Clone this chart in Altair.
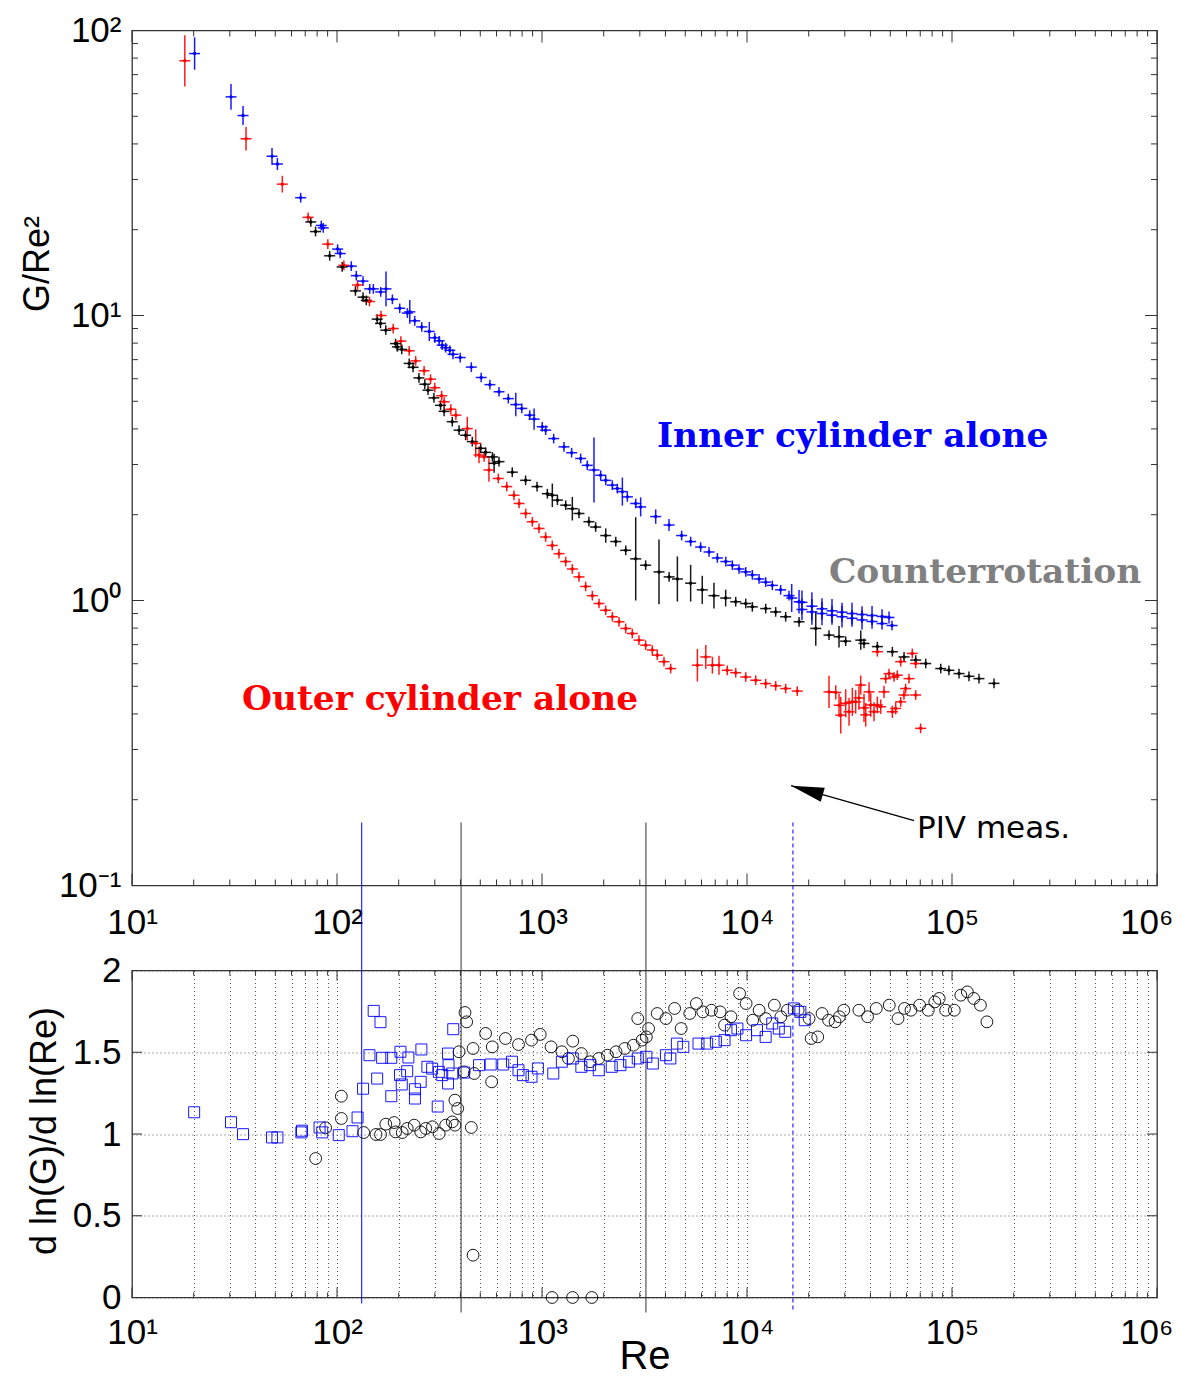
import altair as alt
import pandas as pd

# ------------------------------------------------------------------
# Top panel: G/Re^2 versus Re
# ------------------------------------------------------------------
inner_re = [20.2, 30.4, 34.8, 48.2, 51.2, 66.5, 83.8, 85.7, 100.7, 103.7,
            117.4, 124.2, 133.9, 144.4, 150.4, 163.4, 173.4, 186.3, 202.3, 220.4,
            226.5, 239.5, 259, 282, 300, 315, 326, 339, 355, 368,
            399, 452, 505, 557, 617, 685, 745, 797, 871, 915,
            1003, 1042, 1140, 1280, 1395, 1544, 1663, 1793, 1933, 2046,
            2203, 2330, 2466, 2608, 2865, 3029, 3586, 4165, 4800, 5310,
            5940, 6530, 7170, 7880, 8480, 9140, 9860, 10620, 11450, 12340,
            13290, 14590, 16030, 16520, 17940,
            18540, 20730, 23210, 25980, 29070, 32530, 36400, 40730, 45580, 49300,
            18540, 20730, 23210, 25980, 29070, 32530, 36400, 40730, 45580, 50980]
inner_g = [83.0, 58.5, 50.3, 36.2, 34.0, 25.9, 20.7, 20.3, 17.1, 16.5,
           14.9, 13.8, 13.2, 12.4, 12.4, 12.1, 12.4, 11.4, 10.6, 10.2,
           10.3, 9.58, 9.12, 8.79, 8.35, 8.15, 7.87, 7.71, 7.55, 7.31,
           7.12, 6.59, 6.06, 5.72, 5.40, 5.11, 4.87, 4.72, 4.47, 4.33,
           4.07, 3.96, 3.70, 3.46, 3.30, 3.15, 2.98, 2.87, 2.75, 2.64,
           2.54, 2.47, 2.41, 2.31, 2.19, 2.13, 1.97, 1.84, 1.69, 1.61,
           1.54, 1.48, 1.41, 1.37, 1.33, 1.29, 1.26, 1.23, 1.19, 1.16,
           1.13, 1.09, 1.04, 1.02, 0.99,
           0.985, 0.955, 0.935, 0.92, 0.91, 0.90, 0.893, 0.886, 0.879, 0.872,
           0.93, 0.912, 0.90, 0.888, 0.877, 0.866, 0.855, 0.844, 0.830, 0.817]
inner_err = [0.14, 0.11, 0.08, 0.07, 0.05, 0.04, 0.04, 0.04, 0.04, 0.04,
             0.04, 0.04, 0.04, 0.04, 0.04, 0.04, 0.15, 0.04, 0.04, 0.04,
             0.10, 0.04, 0.04, 0.08, 0.04, 0.04, 0.04, 0.04, 0.04, 0.04,
             0.04, 0.04, 0.04, 0.04, 0.04, 0.04, 0.10, 0.04, 0.04, 0.09,
             0.04, 0.04, 0.04, 0.04, 0.04, 0.04, 0.04, 0.30, 0.04, 0.04,
             0.04, 0.04, 0.12, 0.04, 0.04, 0.08, 0.06, 0.05, 0.04, 0.04,
             0.04, 0.04, 0.04, 0.04, 0.04, 0.04, 0.04, 0.04, 0.04, 0.04,
             0.04, 0.04, 0.04, 0.12, 0.10,
             0.10, 0.12, 0.09, 0.10, 0.08, 0.09, 0.07, 0.08, 0.06, 0.05,
             0.09, 0.11, 0.10, 0.08, 0.09, 0.07, 0.08, 0.06, 0.05, 0.04]

outer_re = [18.1, 36.0, 54.1, 72.3, 90.2, 108, 126, 144, 164, 188,
            205, 225, 242, 266, 286, 300, 324, 333, 359, 380,
            432, 475, 493, 522, 551, 612, 673, 730, 773, 833,
            897, 967, 1042, 1122, 1210, 1305, 1406, 1515, 1633, 1760,
            1897, 2045, 2204, 2376, 2561, 2757, 2972, 3204, 3452, 3651,
            3936, 4243, 5728, 6295, 6780, 7300, 8010, 8810, 9860, 11030,
            12340, 13800, 15440, 17580,
            25120, 27100, 28120, 28660, 30290, 31460, 32640, 33890, 35180, 35870,
            37220, 37930, 39390, 40120, 41660, 43240, 43240, 44900, 46600, 47500,
            49300, 51180, 52130, 53120, 54100, 56200, 56200, 58300, 59400, 61700,
            64000, 66500, 66500, 70300]
outer_g = [78.3, 41.7, 28.9, 22.1, 17.8, 15.0, 12.8, 11.2, 10.0, 9.0,
           8.13, 7.52, 6.93, 6.40, 5.98, 5.58, 5.23, 4.98, 4.69, 4.47,
           4.01, 3.56, 3.24, 3.19, 2.87, 2.68, 2.51, 2.34, 2.19, 2.02,
           1.89, 1.79, 1.67, 1.56, 1.46, 1.37, 1.29, 1.21, 1.12, 1.04,
           0.976, 0.924, 0.877, 0.842, 0.798, 0.766, 0.726, 0.697, 0.670, 0.643,
           0.610, 0.577, 0.593, 0.634, 0.593, 0.593, 0.569, 0.558, 0.539, 0.525,
           0.511, 0.502, 0.491, 0.481,
           0.478, 0.476, 0.429, 0.396, 0.436, 0.407, 0.441, 0.441, 0.455, 0.505,
           0.420, 0.397, 0.478, 0.430, 0.407, 0.430, 0.661, 0.424, 0.478, 0.532,
           0.554, 0.407, 0.539, 0.418, 0.547, 0.441, 0.610, 0.466, 0.491, 0.532,
           0.652, 0.601, 0.466, 0.356]
outer_err = [0.23, 0.10, 0.07, 0.04, 0.04, 0.04, 0.04, 0.04, 0.04, 0.04,
             0.04, 0.04, 0.04, 0.04, 0.04, 0.04, 0.04, 0.04, 0.04, 0.04,
             0.10, 0.12, 0.07, 0.04, 0.10, 0.04, 0.04, 0.04, 0.04, 0.04,
             0.04, 0.04, 0.04, 0.04, 0.04, 0.04, 0.04, 0.04, 0.04, 0.04,
             0.04, 0.04, 0.04, 0.04, 0.04, 0.04, 0.04, 0.04, 0.04, 0.04,
             0.04, 0.04, 0.14, 0.10, 0.07, 0.08, 0.04, 0.04, 0.04, 0.04,
             0.04, 0.04, 0.04, 0.04,
             0.14, 0.06, 0.10, 0.16, 0.12, 0.12, 0.12, 0.10, 0.10, 0.08,
             0.12, 0.10, 0.08, 0.10, 0.08, 0.07, 0.04, 0.06, 0.05, 0.04,
             0.04, 0.05, 0.04, 0.05, 0.04, 0.04, 0.04, 0.04, 0.04, 0.04,
             0.04, 0.04, 0.04, 0.04]

counter_re = [74.5, 78.6, 92.1, 106, 123, 134, 139, 157, 163, 173,
              193, 197, 207, 225, 235, 251, 268, 278, 297, 320,
              333, 365, 394, 424, 457, 502, 531, 573, 584, 617,
              716, 832, 946, 1062, 1123, 1189, 1305, 1406, 1515, 1694,
              1827, 2046, 2290, 2561, 2865, 3204, 3722, 4170, 4575, 5310,
              6050, 6900, 7870, 8810, 9860, 10620, 12340, 13800, 15440, 17950,
              21650, 25120, 28110, 30290, 35890, 37220, 43240, 51180, 58350, 66530,
              74440, 88120, 96600, 108200, 121000, 135400, 160300]
counter_g = [21.3, 19.7, 16.2, 14.8, 12.2, 11.6, 11.3, 9.71, 9.38, 8.88,
             7.97, 7.76, 7.60, 6.79, 6.58, 6.04, 5.74, 5.47, 5.14, 4.84,
             4.61, 4.24, 3.96, 3.80, 3.61, 3.42, 3.31, 3.19, 3.03, 3.07,
             2.82, 2.64, 2.51, 2.37, 2.34, 2.25, 2.16, 2.10, 2.02, 1.89,
             1.81, 1.69, 1.61, 1.50, 1.40, 1.33, 1.26, 1.21, 1.19, 1.15,
             1.09, 1.04, 1.02, 0.99, 0.976, 0.950, 0.937, 0.912, 0.877, 0.842,
             0.798, 0.756, 0.746, 0.720, 0.726, 0.707, 0.689, 0.661, 0.634, 0.618,
             0.601, 0.577, 0.569, 0.554, 0.542, 0.532, 0.512]
counter_err = [0.04, 0.04, 0.04, 0.04, 0.04, 0.04, 0.04, 0.04, 0.04, 0.04,
               0.04, 0.04, 0.04, 0.04, 0.04, 0.04, 0.04, 0.04, 0.04, 0.04,
               0.04, 0.04, 0.04, 0.04, 0.04, 0.04, 0.04, 0.04, 0.08, 0.04,
               0.04, 0.04, 0.04, 0.04, 0.10, 0.04, 0.04, 0.10, 0.04, 0.04,
               0.04, 0.06, 0.04, 0.04, 0.40, 0.04, 0.30, 0.04, 0.20, 0.16,
               0.12, 0.11, 0.07, 0.04, 0.04, 0.04, 0.04, 0.04, 0.04, 0.04,
               0.15, 0.04, 0.09, 0.04, 0.08, 0.04, 0.04, 0.04, 0.04, 0.04,
               0.04, 0.04, 0.04, 0.04, 0.04, 0.04, 0.04]

# ------------------------------------------------------------------
# Bottom panel: local slope d ln(G)/d ln(Re)
# ------------------------------------------------------------------
counter_slope_re = [78.7, 88, 105, 105, 135, 155, 163, 173, 190, 193,
                    208, 220, 238, 256, 271, 292, 315, 339, 365, 376,
                    376, 388, 394, 417, 421, 429, 452, 461, 461, 467,
                    531, 568, 572, 663, 768, 889, 980, 1107, 1250, 1413,
                    1346, 1556, 1717, 1892, 2085, 2298, 2533, 2793, 3077, 3229,
                    2932, 3311, 3650, 4023, 4436, 4772, 5260, 5660, 6085, 6710,
                    7397, 7770, 8352, 9206, 9900, 10660, 11460, 12330, 13600, 14630,
                    15740, 17770, 20080, 20560, 22130, 23240, 24990, 26890, 28230, 29650,
                    35150, 38740, 42710, 49430, 54520, 58650, 63070, 69520, 76600, 82400,
                    86600, 93100, 102600, 110400, 118800, 127700, 137600, 148000,
                    1120, 1410, 1750]
counter_slope = [0.85, 1.038, 1.231, 1.095, 1.009, 0.997, 0.997, 1.06, 1.07, 1.013,
                 1.009, 1.034, 1.054, 1.013, 1.034, 1.044, 1.003, 1.054, 1.074, 1.054,
                 1.207, 1.156, 1.503, 1.38, 1.743, 1.686, 1.04, 0.259, 1.523, 1.37,
                 1.615, 1.319, 1.533, 1.584, 1.547, 1.574, 1.609, 1.533, 1.503, 1.568,
                 1.462, 1.492, 1.442, 1.462, 1.482, 1.503, 1.523, 1.543, 1.574, 1.594,
                 1.706, 1.645, 1.737, 1.706, 1.768, 1.645, 1.737, 1.798, 1.747, 1.757,
                 1.747, 1.666, 1.717, 1.859, 1.798, 1.696, 1.757, 1.706, 1.788, 1.717,
                 1.757, 1.757, 1.706, 1.584, 1.594, 1.737, 1.696, 1.686, 1.717, 1.757,
                 1.757, 1.717, 1.768, 1.788, 1.706, 1.768, 1.757, 1.788, 1.757, 1.808,
                 1.829, 1.757, 1.757, 1.849, 1.869, 1.829, 1.788, 1.686,
                 0.0, 0.0, 0.0]

inner_slope_re = [20.1, 30.4, 34.8, 48.2, 51.2, 67, 67.5, 82.2, 84.7, 102,
                  119, 126, 134, 151, 163, 144, 157, 166, 184, 204,
                  223, 184, 203, 207, 220, 258, 240, 240, 256, 276,
                  291, 310, 314, 326, 348, 348, 365, 369, 350, 417,
                  493, 562, 647, 714, 768, 807, 889, 955, 1135, 1250,
                  1413, 1556, 1717, 1892, 2189, 2412, 2659, 2932, 3229, 3473,
                  4023, 4227, 4550, 4890, 5800, 6394, 7050, 7770, 8352, 8980,
                  9900, 11190, 12330, 13280, 14290, 15360, 16930, 18210, 19130]
inner_slope = [1.133, 1.072, 0.999, 0.979, 0.979, 1.01, 1.02, 1.04, 1.01, 0.993,
               1.017, 1.101, 1.277, 1.753, 1.684, 1.482, 1.339, 1.466, 1.466, 1.503,
               1.468, 1.231, 1.36, 1.303, 1.384, 1.517, 1.274, 1.217, 1.319, 1.411,
               1.40, 1.168, 1.38, 1.36, 1.492, 1.309, 1.37, 1.641, 1.421, 1.376,
               1.421, 1.425, 1.425, 1.442, 1.39, 1.36, 1.35, 1.401, 1.37, 1.442,
               1.462, 1.411, 1.421, 1.39, 1.411, 1.421, 1.442, 1.462, 1.472, 1.431,
               1.482, 1.462, 1.553, 1.533, 1.553, 1.553, 1.564, 1.574, 1.635, 1.645,
               1.604, 1.635, 1.594, 1.676, 1.645, 1.625, 1.768, 1.747, 1.696]

# Vertical reference lines (Re values)
line_blue_re = [132]
line_black_re = [403, 3214]
line_piv_re = [16750]

# Annotations (data coordinates)
ann_text = ["Inner cylinder alone", "Counterrotation", "Outer cylinder alone"]
ann_re = [3640, 25100, 34.4]
ann_g = [3.76, 1.25, 0.446]
piv_text = ["PIV meas."]
piv_re = [67500]
piv_g = [0.158]
arrow_tail_re, arrow_tail_g = [65300], [0.169]
arrow_tip_re, arrow_tip_g = [16400], [0.224]

# Tick values
x_decades = [10, 100, 1000, 10000, 100000, 1000000]
x_minor = [m * 10 ** k for k in range(1, 6) for m in range(2, 10)]
y_decades = [0.1, 1, 10, 100]
y_minor = [m * 10.0 ** k for k in range(-1, 2) for m in range(2, 10)]
y_bot_ticks = [0, 0.5, 1, 1.5, 2]

series_names = ["inner", "outer", "counter"]
series_colors = ["#0000ff", "#ff0000", "#000000"]

# ------------------------------------------------------------------
W, H1, H2 = 1025, 855, 327
FONT = "Liberation Sans, Arial, sans-serif"
FRAME = "#333333"
LABEL_SIZE = 35

sup = {1: "¹", 2: "²", 3: "³", 4: "⁴", 5: "⁵", 6: "⁶"}
x_label_expr = " : ".join(
    f"datum.value == {10 ** k} ? '10{sup[k]}'" for k in range(1, 7)) + " : ''"
y_label_expr = ("datum.value < 0.5 ? '10⁻¹' : datum.value < 5 ? '10⁰' : "
                "datum.value < 50 ? '10¹' : '10²'")
last_align = {"condition": {"test": "datum.value >= 1000000", "value": "right"},
              "value": "center"}
last_offset = {"condition": {"test": "datum.value >= 1000000", "value": 16},
               "value": 0}

xs_top = alt.Scale(type="log", domain=[10, 1e6], nice=False)
ys_top = alt.Scale(type="log", domain=[0.1, 100], nice=False)
xs_bot = alt.Scale(type="log", domain=[10, 1e6], nice=False)
ys_bot = alt.Scale(domain=[0, 2], nice=False)

x_axis_top = alt.Axis(values=x_decades, labelExpr=x_label_expr, title=None,
                      grid=False, ticks=False, domain=False, labelPadding=48,
                      labelBaseline="alphabetic", labelFlush=False, labelOverlap=False,
                      labelAlign=last_align, labelOffset=last_offset)
y_axis_top = alt.Axis(values=y_decades, labelExpr=y_label_expr, title="G/Re²",
                      grid=False, ticks=False, domain=False, labelPadding=11,
                      labelFlush=False, labelOverlap=False, titleFontSize=36,
                      titleX=-95, titleY=233, titleBaseline="middle")
x_all = sorted(x_decades + x_minor)
x_axis_bot = alt.Axis(values=x_all, labelExpr=x_label_expr, title="Re",
                      grid=True, gridDash=[1, 3], gridColor="#555555", gridWidth=1,
                      ticks=False, domain=False, labelPadding=46,
                      labelBaseline="alphabetic", labelFlush=False, labelOverlap=False,
                      labelAlign=last_align, labelOffset=last_offset,
                      titleY=71, titleBaseline="alphabetic")
y_axis_bot = alt.Axis(values=y_bot_ticks, format=".1~f", title="d ln(G)/d ln(Re)",
                      grid=True, gridDash=[1, 3], gridColor="#555555", gridWidth=1,
                      ticks=False, domain=False, labelPadding=11,
                      labelFlush=False, labelOverlap=False, titleFontSize=36,
                      titleX=-88, titleY=160, titleBaseline="middle")


def X(field, top=True):
    return alt.X(field, type="quantitative",
                 scale=xs_top if top else xs_bot,
                 axis=x_axis_top if top else x_axis_bot)


def Y(field, top=True):
    return alt.Y(field, type="quantitative",
                 scale=ys_top if top else ys_bot,
                 axis=y_axis_top if top else y_axis_bot)


def tick_layers(xvals_major, xvals_minor, yvals_major, yvals_minor, top, H,
                lmaj, lmin, ylen):
    layers = []
    for vals, L in ((xvals_major, lmaj), (xvals_minor, lmin)):
        d = pd.DataFrame({"v": vals})
        for y0, y1 in ((H, H - L), (0, L)):
            layers.append(alt.Chart(d).mark_rule(color=FRAME, strokeWidth=1).encode(
                x=X("v", top), y=alt.value(y0), y2=alt.value(y1)))
    for vals, L in ((yvals_major, ylen[0]), (yvals_minor, ylen[1])):
        if not vals:
            continue
        d = pd.DataFrame({"v": vals})
        for x0, x1 in ((0, L), (W, W - L)):
            layers.append(alt.Chart(d).mark_rule(color=FRAME, strokeWidth=1).encode(
                y=Y("v", top), x=alt.value(x0), x2=alt.value(x1)))
    return layers


# ---------------- top data frame ----------------
frames = []
for name, re, g, err in (("inner", inner_re, inner_g, inner_err),
                         ("outer", outer_re, outer_g, outer_err),
                         ("counter", counter_re, counter_g, counter_err)):
    frames.append(pd.DataFrame({
        "series": name, "Re": re, "G": g,
        "lo": [v / (1 + e) for v, e in zip(g, err)],
        "hi": [v * (1 + e) for v, e in zip(g, err)],
    }))
top_df = pd.concat(frames, ignore_index=True)

color = alt.Color("series:N", scale=alt.Scale(domain=series_names, range=series_colors),
                  legend=None)

base = alt.Chart(top_df)
err_rule = base.mark_rule(strokeWidth=1.5, opacity=0.9).encode(
    x=X("Re"), y=Y("lo"), y2="hi", color=color)
hbar = base.mark_point(shape="M-1,0L1,0", size=121, filled=False, strokeWidth=1.5,
                       opacity=0.9).encode(x=X("Re"), y=Y("G"), color=color)
dots = base.mark_circle(size=12, opacity=1).encode(x=X("Re"), y=Y("G"), color=color)

top_layers = []
# vertical marker lines (top part)
for vals, col, dash in ((line_blue_re, "#0000ff", None), (line_black_re, FRAME, None),
                        (line_piv_re, "#0000ff", [4, 3])):
    kw = dict(color=col, strokeWidth=1)
    if dash:
        kw["strokeDash"] = dash
    top_layers.append(alt.Chart(pd.DataFrame({"v": vals})).mark_rule(**kw).encode(
        x=X("v"), y=alt.value(792), y2=alt.value(H1)))
top_layers += tick_layers(x_decades, x_minor, y_decades, y_minor, True, H1, 12, 6, (12, 6))
top_layers += [err_rule, hbar, dots]

ann_colors = ["#0000ff", "#808080", "#ff0000"]
for t, r, g, c in zip(ann_text, ann_re, ann_g, ann_colors):
    top_layers.append(alt.Chart(pd.DataFrame({"t": [t], "Re": [r], "G": [g]})).mark_text(
        font="DejaVu Serif", fontWeight="bold", fontSize=34.4, align="left",
        baseline="middle", color=c).encode(x=X("Re"), y=Y("G"), text="t:N"))
top_layers.append(alt.Chart(pd.DataFrame({"t": piv_text, "Re": piv_re, "G": piv_g})).mark_text(
    font="DejaVu Sans", fontSize=31, align="left", baseline="middle", color="black").encode(
    x=X("Re"), y=Y("G"), text="t:N"))
arrow_df = pd.DataFrame({"x0": arrow_tail_re, "y0": arrow_tail_g,
                         "x1": arrow_tip_re, "y1": arrow_tip_g})
top_layers.append(alt.Chart(arrow_df).mark_rule(color="black", strokeWidth=1.3).encode(
    x=X("x0"), x2="x1", y=Y("y0"), y2="y1"))
top_layers.append(alt.Chart(arrow_df).mark_point(
    shape="M0,0L0.22,1L-0.22,1Z", size=4356, filled=True, color="black", opacity=1,
    angle=286).encode(x=X("x1"), y=Y("y1")))

top = alt.layer(*top_layers).properties(width=W, height=H1)

# ---------------- bottom panel ----------------
bot_layers = []
bot_layers += tick_layers(x_decades, x_minor, y_bot_ticks, [], False, H2, 10, 5, (10, 0))
circ = alt.Chart(pd.DataFrame({"Re": counter_slope_re, "s": counter_slope})).mark_point(
    shape="circle", filled=False, size=140, color="black", strokeWidth=0.9, opacity=1).encode(
    x=X("Re", False), y=Y("s", False))
sq = alt.Chart(pd.DataFrame({"Re": inner_slope_re, "s": inner_slope})).mark_point(
    shape="square", filled=False, size=121, color="#0000ff", strokeWidth=1, opacity=0.9).encode(
    x=X("Re", False), y=Y("s", False))
bot_layers += [circ, sq]
for vals, col, dash, ext in ((line_blue_re, "#0000ff", None, 6), (line_black_re, FRAME, None, 15),
                             (line_piv_re, "#0000ff", [4, 3], 15)):
    kw = dict(color=col, strokeWidth=1)
    if dash:
        kw["strokeDash"] = dash
    bot_layers.append(alt.Chart(pd.DataFrame({"v": vals})).mark_rule(**kw).encode(
        x=X("v", False), y=alt.value(-85), y2=alt.value(H2 + ext)))

bottom = alt.layer(*bot_layers).properties(width=W, height=H2)

chart = alt.vconcat(top, bottom, spacing=85, bounds="flush").properties(
    padding={"left": 10, "top": 4.5, "right": 0, "bottom": 0}
).configure_view(stroke=FRAME, strokeWidth=1.3).configure_axis(
    labelFont=FONT, titleFont=FONT, labelFontSize=LABEL_SIZE, titleFontSize=40,
    labelColor="black", titleColor="black", titleFontWeight="normal"
).configure_concat(spacing=85)

chart.save("out.html", embed_options={"renderer": "svg", "actions": False})
